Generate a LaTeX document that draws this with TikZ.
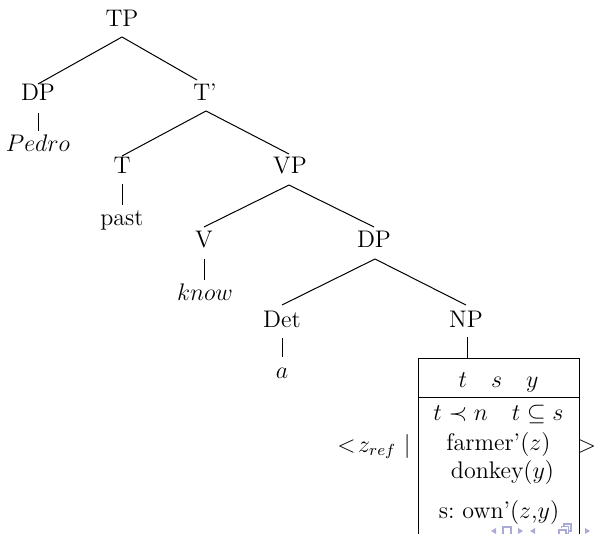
\documentclass[tikz,border=0pt]{standalone}
\usetikzlibrary{calc}
\definecolor{navcol}{RGB}{170,170,215}
\begin{document}
\begin{tikzpicture}[x=0.5pt,y=-0.5pt,
  lab/.style={anchor=base,inner sep=0pt,font=\fontsize{12}{14}\selectfont},
  edge/.style={line width=0.5pt},
  nav/.style={navcol,line width=0.6pt}]
\useasboundingbox (0,0) rectangle (594,534);
% tree nodes
\node[lab] (TP) at (122,27) {TP};
\node[lab] (DPa) at (38,101) {DP};
\node[lab] (Tbar) at (205,101) {T'};
\node[lab] (Pedro) at (38,152) {$Pedro$};
\node[lab] (T) at (122,174) {T};
\node[lab] (past) at (122,226) {past};
\node[lab] (VP) at (290,174) {VP};
\node[lab] (V) at (204,248) {V};
\node[lab] (know) at (205,300) {$know$};
\node[lab] (DPb) at (374,248) {DP};
\node[lab] (Det) at (282,327) {Det};
\node[lab] (a) at (282,378) {$a$};
\node[lab] (NP) at (466,327) {NP};
% edges
\draw[edge] ($(TP.base)+(0,10)$) -- ($(DPa.base)+(0,-17)$);
\draw[edge] ($(TP.base)+(0,10)$) -- ($(Tbar.base)+(-8,-21)$);
\draw[edge] ($(DPa.base)+(0,12)$) -- ($(Pedro.base)+(0,-21)$);
\draw[edge] ($(Tbar.base)+(1,10)$) -- ($(T.base)+(0,-18)$);
\draw[edge] ($(Tbar.base)+(1,10)$) -- ($(VP.base)+(-1,-20)$);
\draw[edge] ($(T.base)+(0,10)$) -- ($(past.base)+(0,-21)$);
\draw[edge] ($(VP.base)+(-1,11)$) -- ($(V.base)+(0,-21)$);
\draw[edge] ($(VP.base)+(-1,11)$) -- ($(DPb.base)+(0,-21)$);
\draw[edge] ($(V.base)+(0,11)$) -- ($(know.base)+(-1,-20)$);
\draw[edge] ($(DPb.base)+(1,11)$) -- ($(Det.base)+(0,-22)$);
\draw[edge] ($(DPb.base)+(1,11)$) -- ($(NP.base)+(0,-22)$);
\draw[edge] ($(Det.base)+(0,11)$) -- ($(a.base)+(0,-21)$);
% DRS box
\coordinate (boxtl) at (418,358);
\coordinate (boxtr) at (579,358);
\coordinate (boxbl) at (418,534);
\coordinate (boxbr) at (579,534);
\coordinate (hl) at (418,397);
\coordinate (hr) at (579,397);
\draw[edge] (boxbl) -- (boxtl) -- (boxtr) -- (boxbr);
\draw[edge] (hl) -- (hr);
\draw[edge] ($(NP.base)+(1,10)$) -- ($(NP.base |- boxtl)+(1,0)$);
\node[lab] (head) at (498.5,387) {$t\quad s\quad y$};
\node[lab] (c1) at (498.5,420) {$t\prec n$\quad$t\subseteq s$};
\node[lab] (c2) at (498.5,450) {farmer'($z$)};
\node[lab] (c3) at (502.5,478) {donkey($y$)};
\node[lab] (c4) at (499,518) {s:\ own'($z$,$y$)};
\node[lab,anchor=base east] (zref) at (411,452) {$<\!z_{ref}$ $|$};
\node[lab] (gt) at (587,452) {$>$};
% navigation symbols
\fill[navcol] (491,531) -- (496,528) -- (496,534) -- cycle;
\draw[nav] (503,527) rectangle (511,536);
\fill[navcol] (518,528) -- (523,531) -- (518,534) -- cycle;
\fill[navcol] (535,528) -- (530,531) -- (535,534) -- cycle;
\draw[nav] (559,530) rectangle (566,537);
\draw[nav] (561.5,528) -- (561.5,526.5) -- (568.5,526.5) -- (568.5,533.5) -- (566,533.5);
\draw[nav] (564,526.5) -- (564,524) -- (571,524) -- (571,531) -- (568.5,531);
\fill[navcol] (585,528) -- (590,531) -- (585,534) -- cycle;
\end{tikzpicture}
\end{document}
